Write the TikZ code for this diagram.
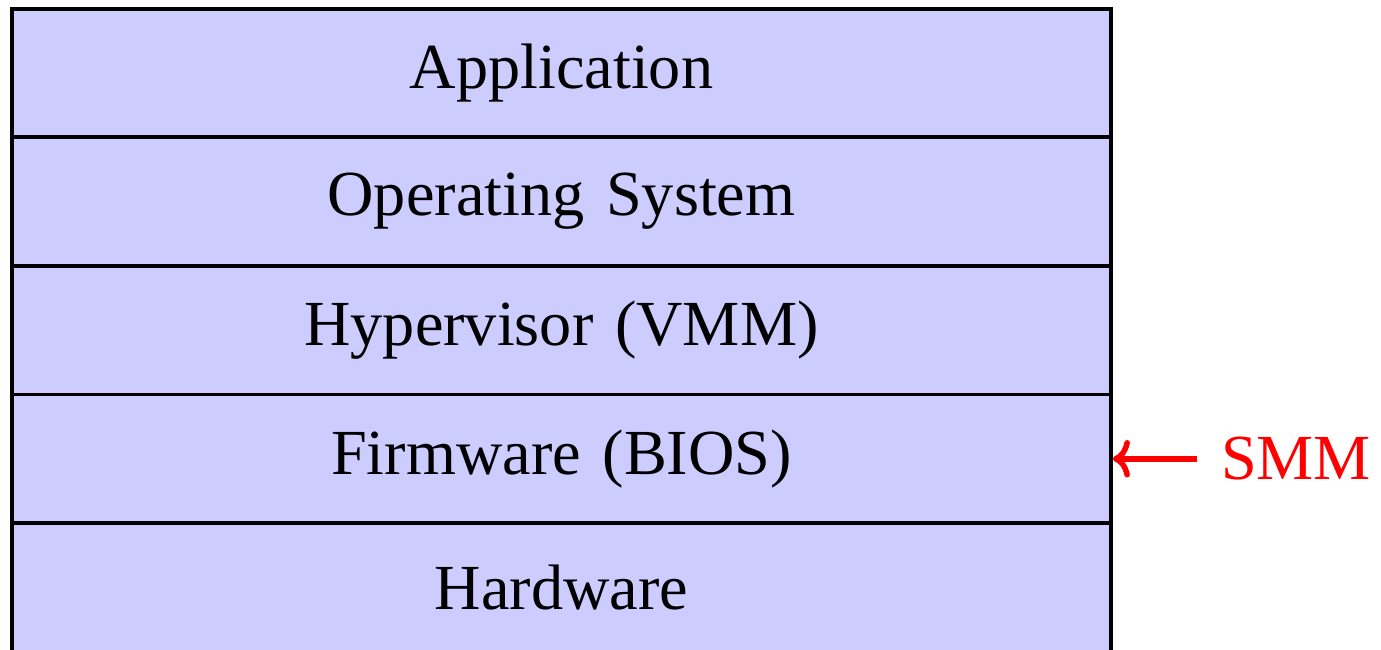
\documentclass[tikz,border=0pt]{standalone}
\usepackage{fontspec}
\setmainfont[WordSpace={1.35,0,0}]{Liberation Serif}
\usetikzlibrary{arrows.meta}
\begin{document}
\begin{tikzpicture}[x=0.2pt,y=-0.2pt,
  layer/.style={draw=black,fill=blue!20,line width=0.75pt,rectangle,
    minimum width=219.8pt,minimum height=25.72pt,inner sep=0pt,
    font=\fontsize{12.85}{15}\selectfont},
  smmlabel/.style={text=red,font=\fontsize{12.85}{15}\selectfont,inner sep=4.6pt}]
\useasboundingbox (0,0) rectangle (1381,650);
\node[layer] (app) at (561.5,73) {Application};
\node[layer] (os) at (561.5,201.6) {Operating System};
\node[layer] (hyp) at (561.5,330.2) {Hypervisor (VMM)};
\node[layer] (fw) at (561.5,458.8) {Firmware (BIOS)};
\node[layer] (hw) at (561.5,587.4) {Hardware};
\node[smmlabel,anchor=west] (smm) at (1197,458.8) {SMM};
\draw[red,line width=1.1pt,-{To[length=3.4pt,width=7.5pt]}] (smm.west) -- (fw.east);
\end{tikzpicture}
\end{document}
